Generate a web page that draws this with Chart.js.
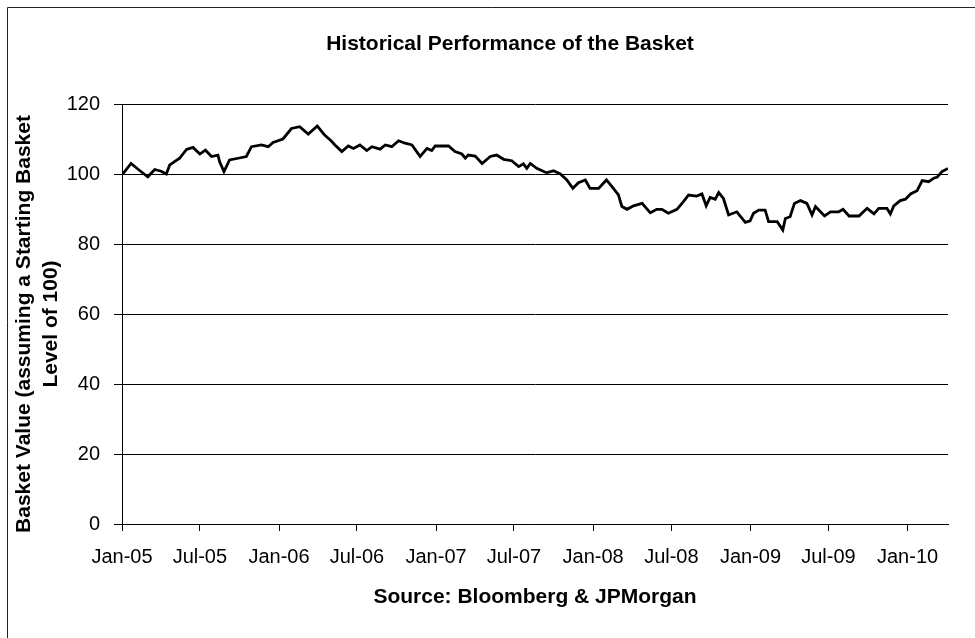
<!DOCTYPE html>
<html>
<head>
<meta charset="utf-8">
<script src="https://cdn.jsdelivr.net/npm/chart.js@4.4.1/dist/chart.umd.min.js"></script>
<style>
  body { margin: 0; background: #fff; }
  canvas { display: block; }
</style>
</head>
<body>
<canvas id="chart" width="975" height="638"></canvas>
<script>
// basket level (roughly every 2-3 weeks)
const dates = [
  "2005-01-03","2005-01-22","2005-02-11","2005-03-02","2005-03-18","2005-04-02","2005-04-14","2005-04-22",
  "2005-05-15","2005-05-31","2005-06-15","2005-07-01","2005-07-14","2005-07-28","2005-08-12","2005-08-16",
  "2005-08-26","2005-09-08","2005-09-28","2005-10-17","2005-10-29","2005-11-21","2005-12-07","2005-12-18",
  "2006-01-10","2006-01-30","2006-02-18","2006-03-10","2006-03-31","2006-04-17","2006-05-02","2006-05-11",
  "2006-05-27","2006-06-11","2006-06-23","2006-07-08","2006-07-24","2006-08-05","2006-08-24","2006-09-05",
  "2006-09-20","2006-10-06","2006-10-21","2006-11-06","2006-11-25","2006-12-11","2006-12-22","2006-12-30",
  "2007-01-30","2007-02-14","2007-03-02","2007-03-10","2007-03-17","2007-04-02","2007-04-18","2007-05-07",
  "2007-05-22","2007-06-07","2007-06-26","2007-07-12","2007-07-23","2007-07-31","2007-08-08","2007-08-23",
  "2007-09-12","2007-09-16","2007-10-01","2007-10-17","2007-11-01","2007-11-15","2007-11-28","2007-12-14",
  "2007-12-25","2008-01-14","2008-02-01","2008-02-14","2008-02-29","2008-03-08","2008-03-20","2008-04-04",
  "2008-04-24","2008-05-13","2008-05-28","2008-06-09","2008-06-24","2008-07-14","2008-07-29","2008-08-10",
  "2008-08-29","2008-09-10","2008-09-20","2008-09-29","2008-10-11","2008-10-19","2008-10-30","2008-11-11",
  "2008-11-30","2008-12-20","2008-12-31","2009-01-08","2009-01-20","2009-02-04","2009-02-12","2009-03-04",
  "2009-03-17","2009-03-23","2009-04-03","2009-04-13","2009-04-27","2009-05-12","2009-05-24","2009-06-01",
  "2009-06-22","2009-07-06","2009-07-25","2009-08-04","2009-08-18","2009-09-10","2009-09-29","2009-10-15",
  "2009-10-26","2009-11-14","2009-11-22","2009-11-30","2009-12-15","2009-12-27","2010-01-08","2010-01-23",
  "2010-02-04","2010-02-19","2010-03-03","2010-03-11","2010-03-22","2010-04-05"
];
const basket = [
  100,103,101,99.2,101.3,100.8,100,102.6,
  104.5,107,107.6,105.7,106.8,105,105.4,103.5,
  100.7,104,104.5,105,107.8,108.3,107.8,109,
  110,113,113.5,111.4,113.7,111.1,109.5,108.3,
  106.4,108,107.3,108.3,106.7,107.8,107.1,108.3,
  107.8,109.5,108.8,108.3,105,107.3,106.7,108,
  108,106.4,105.7,104.5,105.4,105.1,103,105,
  105.4,104.2,103.8,102.1,102.9,101.6,103,101.6,
  100.5,100.4,100.9,100,98.3,95.9,97.5,98.3,
  95.9,95.9,98.3,96.4,94,90.7,89.9,90.9,
  91.6,88.9,89.9,89.9,88.8,89.9,92.1,94,
  93.7,94.3,90.9,93.3,92.8,94.7,93,88.3,
  89.2,86.2,86.6,88.8,89.7,89.7,86.4,86.4,
  84,87.3,87.8,91.6,92.4,91.6,88.3,90.7,
  88,89.2,89.2,89.9,88,88,90.2,88.6,
  90.2,90.2,88.6,90.9,92.4,92.8,94.3,95.2,
  98.1,97.8,98.8,99.1,100.7,101.6
];

const tickDates = ["2005-01-01","2005-07-01","2006-01-01","2006-07-01","2007-01-01","2007-07-01",
                   "2008-01-01","2008-07-01","2009-01-01","2009-07-01","2010-01-01"];
const tickLabels = ["Jan-05","Jul-05","Jan-06","Jul-06","Jan-07","Jul-07",
                    "Jan-08","Jul-08","Jan-09","Jul-09","Jan-10"];
const yTicks = [0, 20, 40, 60, 80, 100, 120];
const yTitle = ["Basket Value (assuming a Starting Basket", "Level of 100)"];

const FONT = "'Liberation Sans', Arial, sans-serif";
const start = Date.UTC(2005, 0, 1);
const dayOf = s => (Date.parse(s) - start) / 86400000;
const tickDays = tickDates.map(dayOf);

// outer frame (only left/top edge show in the original), main title and y title
const frame = {
  id: "frame",
  afterDraw(chart) {
    const c = chart.ctx;
    c.save();
    c.strokeStyle = "#222";
    c.lineWidth = 1;
    c.beginPath();
    c.moveTo(7.5, 638); c.lineTo(7.5, 7.5); c.lineTo(975, 7.5);
    c.stroke();
    c.fillStyle = "#000";
    c.font = "bold 21px " + FONT;
    c.textAlign = "center";
    c.textBaseline = "middle";
    c.fillText("Historical Performance of the Basket", 510, 44);
    c.translate(0, 324);
    c.rotate(-Math.PI / 2);
    c.fillText(yTitle[0], 0, 24);
    c.fillText(yTitle[1], 0, 51);
    c.restore();
  }
};

window.addEventListener("load", function () {
  const ctx = document.getElementById("chart");
  new Chart(ctx, {
    type: "line",
    data: {
      datasets: [{
        label: "Basket",
        data: dates.map((d, i) => ({ x: dayOf(d), y: basket[i] })),
        borderColor: "#000",
        borderWidth: 2.8,
        pointRadius: 0,
        tension: 0,
        fill: false
      }]
    },
    options: {
      responsive: false,
      animation: false,
      layout: { padding: { left: 0, right: 27, top: 104, bottom: 0 } },
      plugins: {
        legend: { display: false },
        tooltip: { enabled: false }
      },
      scales: {
        x: {
          type: "linear",
          min: 0,
          max: dayOf("2010-04-05"),
          afterBuildTicks: s => { s.ticks = tickDays.map(v => ({ value: v })); },
          afterFit: s => { s.height = 114; },
          ticks: {
            autoSkip: false,
            maxRotation: 0,
            padding: 14,
            color: "#000",
            font: { family: FONT, size: 20 },
            callback: (v) => tickLabels[tickDays.indexOf(v)]
          },
          grid: { drawOnChartArea: false, drawTicks: true, tickLength: 7, color: "#000", lineWidth: 1 },
          border: { display: true, color: "#000", width: 1 },
          title: {
            display: true,
            text: "Source: Bloomberg & JPMorgan",
            color: "#000",
            font: { family: FONT, size: 21, weight: "bold" },
            padding: { top: 0, bottom: 28 }
          }
        },
        y: {
          min: 0,
          max: 120,
          afterBuildTicks: s => { s.ticks = yTicks.map(v => ({ value: v })); },
          afterFit: s => { s.width = 122; },
          ticks: {
            padding: 14,
            color: "#000",
            font: { family: FONT, size: 20 }
          },
          grid: { color: "#000", lineWidth: 1, tickLength: 8 },
          border: { display: true, color: "#000", width: 1 }
        }
      }
    },
    plugins: [frame]
  });
});
</script>
</body>
</html>
